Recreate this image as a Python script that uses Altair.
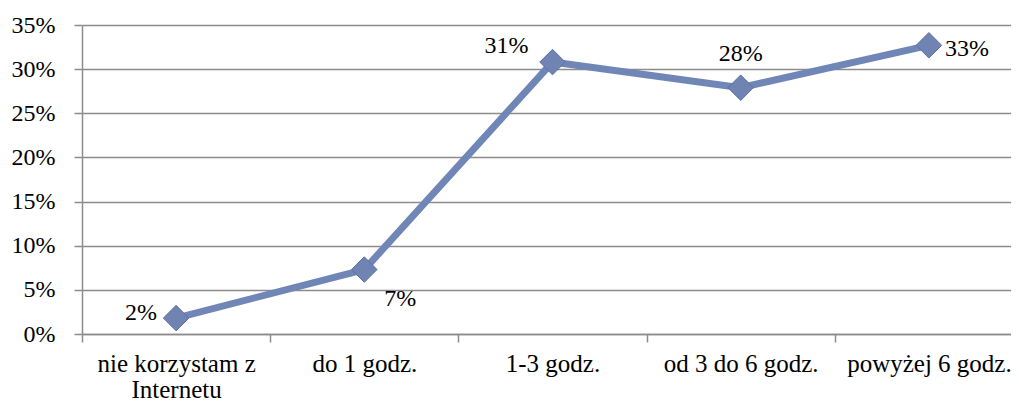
import altair as alt
import pandas as pd

categories = ["nie korzystam z Internetu", "do 1 godz.", "1-3 godz.", "od 3 do 6 godz.", "powyżej 6 godz."]
values = [0.018, 0.073, 0.308, 0.279, 0.327]
labels = ["2%", "7%", "31%", "28%", "33%"]

df = pd.DataFrame({"cat": categories, "val": values, "lab": labels})

FONT = "Liberation Serif"
COLOR = "#7086b6"
GRID = "#8c8c8c"
FS = 24

x = alt.X("cat:N", sort=categories, title=None,
          scale=alt.Scale(paddingInner=0, paddingOuter=0, range=[0, 941]),
          axis=alt.Axis(labelAngle=0, tickBand="extent", tickSize=8, tickColor=GRID,
                        tickWidth=1.5, domainColor=GRID, domainWidth=1.5,
                        labelFont=FONT, labelFontSize=25, labelColor="#000",
                        labelPadding=9, labelLineHeight=26,
                        labelExpr="datum.label == 'nie korzystam z Internetu' ? ['nie korzystam z', 'Internetu'] : datum.label"))
y = alt.Y("val:Q", title=None,
          scale=alt.Scale(domain=[0, 0.35], nice=False),
          axis=alt.Axis(format=".0%", values=[0, 0.05, 0.1, 0.15, 0.2, 0.25, 0.3, 0.35],
                        grid=True, gridColor=GRID, gridWidth=1.5,
                        tickSize=8, tickColor=GRID, tickWidth=1.5,
                        domainColor=GRID, domainWidth=1.5,
                        labelFont=FONT, labelFontSize=FS, labelColor="#000",
                        labelPadding=19))

base = alt.Chart(df)
line = base.mark_line(color=COLOR, strokeWidth=7).encode(x=x, y=y)
pts = base.mark_point(shape="diamond", filled=True, color="#6f84b3", opacity=1, size=650,
                      stroke="#5d72a3", strokeWidth=1).encode(x=x, y=y)

offsets = {
    "nie korzystam z Internetu": (-19, -5, "right"),
    "do 1 godz.": (36, 29, "center"),
    "1-3 godz.": (-46, -16, "center"),
    "od 3 do 6 godz.": (0, -34, "center"),
    "powyżej 6 godz.": (16, 4, "left"),
}
texts = []
for c, (dx, dy, al) in offsets.items():
    texts.append(
        base.transform_filter(alt.datum.cat == c)
        .mark_text(font=FONT, fontSize=FS, color="#000", dx=dx, dy=dy, align=al, baseline="middle")
        .encode(x=x, y=y, text="lab:N")
    )

chart = alt.layer(line, pts, *texts).properties(
    width=929, height=309,
    autosize=alt.AutoSizeParams(type="none"),
    padding={"left": 74, "top": 17, "right": 0, "bottom": 69},
).configure_view(stroke=None).configure(background="white")

chart.save("out.html", embed_options={"renderer": "svg", "actions": False})
